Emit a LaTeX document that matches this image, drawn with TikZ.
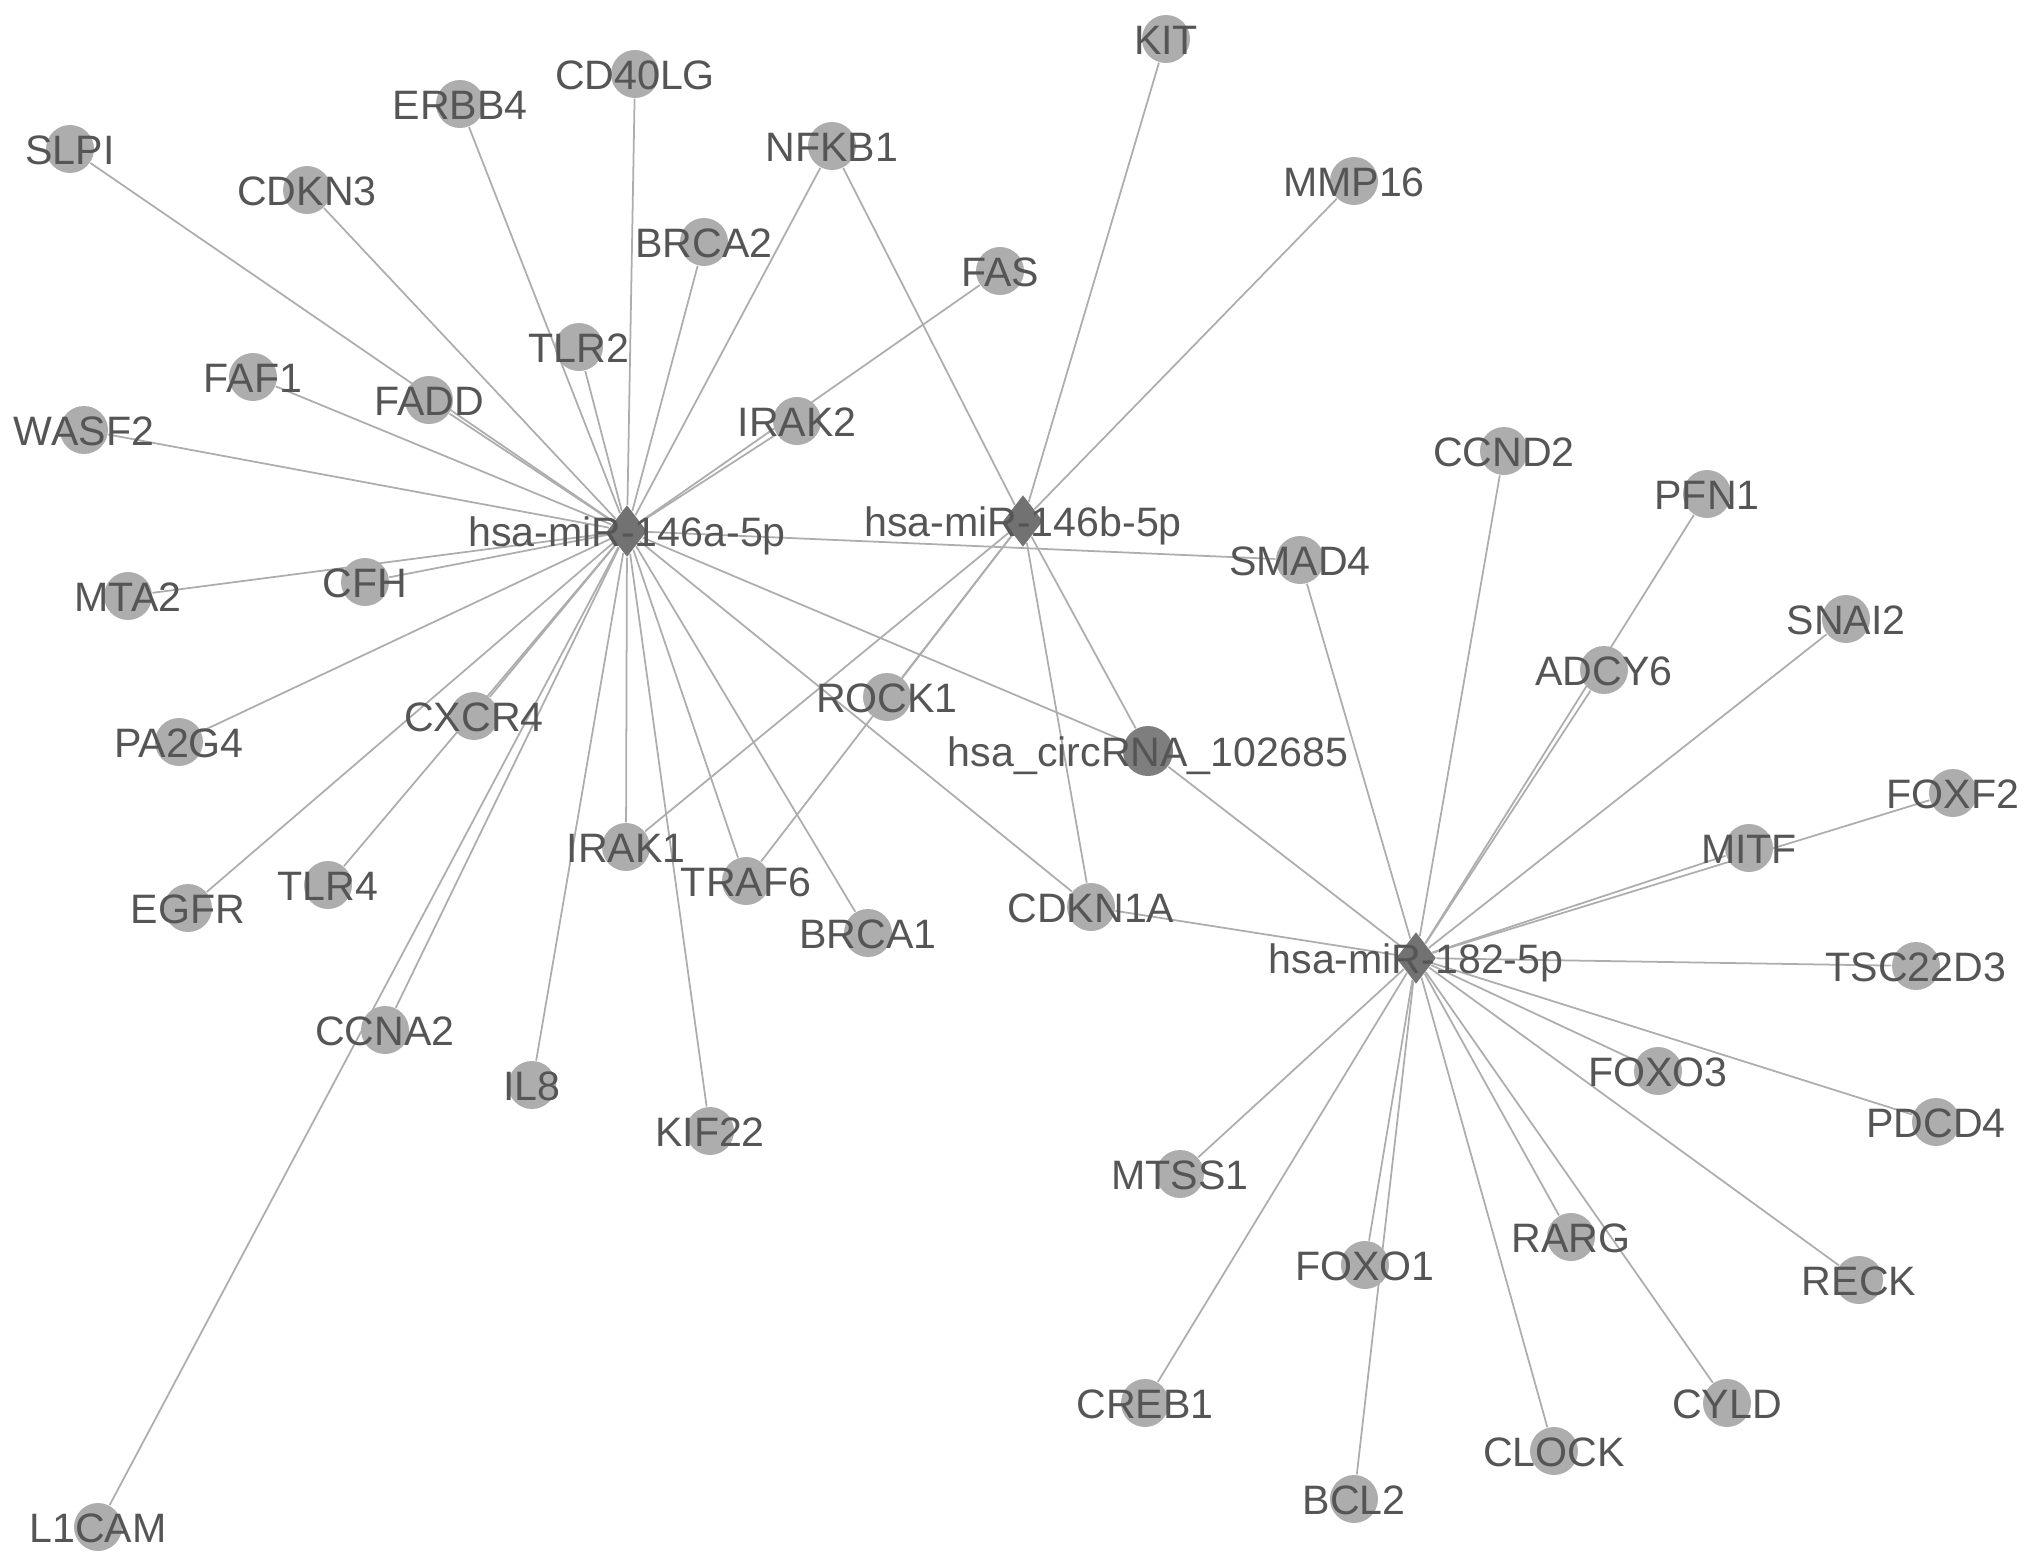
\documentclass[tikz,border=0pt]{standalone}
\usepackage{fontspec}
\setmainfont{Liberation Sans}
\usepackage{tikz}
\usetikzlibrary{shapes.geometric,backgrounds}
\definecolor{nodegray}{HTML}{ADADAD}
\definecolor{hubgray}{HTML}{727272}
\definecolor{circgray}{HTML}{7E7E7E}
\definecolor{edgegray}{HTML}{ADADAD}
\definecolor{txtgray}{HTML}{555555}
% target genes: name/x/y (y grows downwards)
\newcommand{\genelist}{SLPI/0.70/1.49, ERBB4/4.60/1.04, CD40LG/6.35/0.74,
  KIT/11.66/0.39, NFKB1/8.32/1.46, MMP16/13.54/1.81, CDKN3/3.07/1.90,
  BRCA2/7.04/2.42, FAS/10.00/2.71, TLR2/5.79/3.47, FAF1/2.53/3.77,
  FADD/4.29/4.00, IRAK2/7.97/4.21, WASF2/0.84/4.30, CCND2/15.04/4.51,
  PFN1/17.07/4.94, SMAD4/13.00/5.60, MTA2/1.28/5.96, CFH/3.65/5.82,
  SNAI2/18.46/6.19, ADCY6/16.04/6.70, ROCK1/8.87/6.97, CXCR4/4.74/7.16,
  PA2G4/1.79/7.42, FOXF2/19.53/7.93, MITF/17.49/8.48, IRAK1/6.26/8.47,
  TRAF6/7.46/8.81, TLR4/3.28/8.85, EGFR/1.88/9.08, BRCA1/8.68/9.33,
  CDKN1A/10.91/9.07, TSC22D3/19.16/9.66, CCNA2/3.85/10.30,
  FOXO3/16.58/10.71, IL8/5.32/10.85, PDCD4/19.36/11.22, KIF22/7.10/11.31,
  MTSS1/11.80/11.74, FOXO1/13.65/12.65, RARG/15.71/12.37,
  RECK/18.59/12.80, CREB1/11.45/14.03, CYLD/17.27/14.03,
  CLOCK/15.54/14.51, BCL2/13.54/14.99, L1CAM/0.98/15.27}

\begin{document}
\begin{tikzpicture}[x=1cm,y=-1cm,
  gene/.style={circle,fill=nodegray,minimum size=4.8mm,inner sep=0pt},
  mirna/.style={diamond,fill=hubgray,minimum width=4.0mm,minimum height=5.2mm,
                inner sep=0pt},
  circ/.style={circle,fill=circgray,minimum size=5.0mm,inner sep=0pt},
  lab/.style={font=\fontsize{11.7}{14}\selectfont,text=txtgray,inner sep=0pt,
              text height=0.716em,text depth=0pt,yshift=-0.3mm},
  edge/.style={draw=edgegray,line width=0.5pt}]
\useasboundingbox (0,0) rectangle (20.31,15.67);

% miRNAs and circRNA
\node[mirna] (m146a) at (6.27,5.31) {};
\node[mirna] (m146b) at (10.23,5.21) {};
\node[mirna] (m182)  at (14.16,9.58) {};
\node[circ]  (circ)  at (11.48,7.51) {};

\foreach \n/\x/\y in \genelist
  \node[gene] (\n) at (\x,\y) {};

\begin{scope}[on background layer]
\foreach \g in {SLPI,ERBB4,CD40LG,NFKB1,CDKN3,BRCA2,TLR2,FAF1,FADD,IRAK2,FAS,
                WASF2,MTA2,CFH,PA2G4,CXCR4,EGFR,TLR4,CCNA2,L1CAM,IL8,KIF22,
                IRAK1,TRAF6,BRCA1,CDKN1A,SMAD4,circ}
  \draw[edge] (m146a) -- (\g);
\foreach \g in {NFKB1,KIT,MMP16,IRAK1,ROCK1,TRAF6,CDKN1A,circ}
  \draw[edge] (m146b) -- (\g);
\foreach \g in {circ,CDKN1A,SMAD4,CCND2,PFN1,ADCY6,SNAI2,FOXF2,MITF,TSC22D3,
                FOXO3,PDCD4,RECK,CYLD,RARG,CLOCK,BCL2,FOXO1,CREB1,MTSS1}
  \draw[edge] (m182) -- (\g);
\end{scope}

% labels on top
\foreach \n/\x/\y in \genelist
  \node[lab] (\n-t) at (\n) {\n};
\node[lab] (m146a-t) at (m146a) {hsa-miR-146a-5p};
\node[lab] (m146b-t) at (m146b) {hsa-miR-146b-5p};
\node[lab] (m182-t)  at (m182)  {hsa-miR-182-5p};
\node[lab] (circ-t)  at (circ)  {hsa\_circRNA\_102685};
\end{tikzpicture}
\end{document}
